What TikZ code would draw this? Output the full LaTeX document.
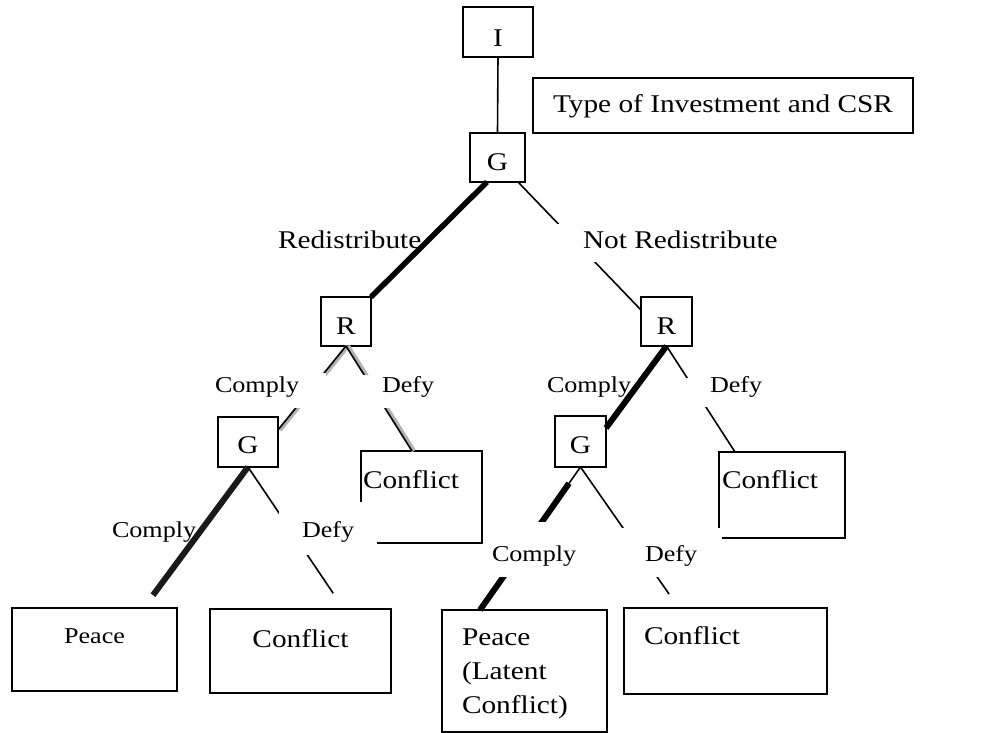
\documentclass[tikz,border=0pt]{standalone}
\usepackage{fontspec}
\setmainfont{Liberation Serif}
\newfontfamily\treefont[FakeStretch=1.15]{Liberation Serif}
\newcommand{\boxtxt}{\treefont\fontsize{25.5}{34}\selectfont}
\newcommand{\lbltxt}{\treefont\fontsize{22.7}{28}\selectfont}

\begin{document}
\begin{tikzpicture}[x=1pt,y=-1pt,
    box/.style={draw,line width=1.6pt,anchor=north west,outer sep=0pt,inner ysep=0pt,font=\boxtxt},
    lbl/.style={fill=white,anchor=north west,outer sep=0pt,inner ysep=0pt,font=\lbltxt},
    branch/.style={line width=1.6pt},
    eqpath/.style={line width=6pt},
    shade/.style={gray!60,line width=4.5pt,transform canvas={xshift=1.8pt}}]
    \useasboundingbox (0,0) rectangle (989,733);
    % boxes
    \node[box,minimum width=70pt,text height=40pt,text depth=10pt] (i) at (463,7) {I};
    \node[box,inner xsep=20pt,text height=35pt,text depth=20pt] (csr) at (533,78) {Type of Investment and CSR};
    \node[box,minimum width=55pt,text height=38pt,text depth=11pt] (g1) at (470,133) {G};
    \node[box,minimum width=50pt,text height=37pt,text depth=12pt] (r1) at (321,297) {R};
    \node[box,minimum width=51pt,text height=37pt,text depth=12pt] (r2) at (641,297) {R};
    \node[box,minimum width=60pt,text height=36pt,text depth=14pt] (g2) at (218,417) {G};
    \node[box,minimum width=51pt,text height=37pt,text depth=14pt] (g3) at (555,416) {G};
    \node[box,inner xsep=2pt,text width=117pt,align=left,text height=37pt,text depth=55pt] (c1) at (361,451) {Conflict};
    \node[box,inner xsep=3pt,text width=120pt,align=left,text height=36pt,text depth=50pt] (c3) at (719,452) {Conflict};
    \node[box,font=\lbltxt,minimum width=165pt,text height=35pt,text depth=48pt] (p1) at (12,608) {Peace};
    \node[box,minimum width=181pt,text height=38pt,text depth=46pt] (c2) at (210,609) {Conflict};
    \node[box,inner xsep=20pt,text width=125pt,align=left,text height=35pt,text depth=87pt] (pl) at (442,610) {Peace\\(Latent\\Conflict)};
    \node[box,inner xsep=20pt,text width=163pt,align=left,text height=36pt,text depth=50pt] (c4) at (624,608) {Conflict};
    % thin branches
    \draw[branch] (i.south) -- (g1.north);
    \draw[branch] ([xshift=20.5pt]g1.south) -- ([yshift=11.5pt]r2.west);
    \draw[shade] (r1.south) -- ([yshift=12pt]g2.east);
    \draw[branch] (r1.south) -- ([yshift=12pt]g2.east);
    \draw[shade] (r1.south) -- ([xshift=-9.5pt]c1.north);
    \draw[branch] (r1.south) -- ([xshift=-9.5pt]c1.north);
    \draw[branch,shorten >=19pt] (g2.south) -- ([xshift=43.3pt]c2.north);
    \draw[branch] (r2.south) -- ([xshift=-47pt]c3.north);
    \draw[branch] (g3.south) -- ([xshift=-44.5pt]pl.north);
    \draw[eqpath,shorten <=20pt] (g3.south) -- ([xshift=-44.5pt]pl.north);
    \draw[branch,shorten >=17pt] (g3.south) -- ([xshift=-46.7pt]c4.north);
    % labels
    \node[lbl,font=\boxtxt,inner xsep=2pt,text height=20pt,text depth=8pt] (redis) at (276,228) {Redistribute};
    \node[lbl,font=\boxtxt,inner xsep=27pt,text height=24pt,text depth=14pt] (notredis) at (556,224) {Not Redistribute};
    \node[lbl,inner xsep=27pt,text height=19pt,text depth=16pt] (rcomply1) at (188,373) {Comply};
    \node[lbl,inner xsep=20pt,text height=17pt,text depth=16pt] (rdefy1) at (362,375) {Defy};
    \node[lbl,inner xsep=3pt,text height=19pt,text depth=10pt] (rcomply2) at (544,373) {Comply};
    \node[lbl,inner xsep=25pt,text height=14pt,text depth=15pt] (rdefy2) at (685,378) {Defy};
    \node[lbl,inner xsep=3pt,text height=18pt,text depth=8pt] (gcomply1) at (109,519) {Comply};
    \node[lbl,inner xsep=23pt,text height=35pt,text depth=18pt] (gdefy1) at (279,502) {Defy};
    \node[lbl,inner xsep=5pt,text height=39pt,text depth=16pt] (gcomply2) at (487,522) {Comply};
    \node[lbl,inner xsep=25pt,text height=33pt,text depth=16pt] (gdefy2) at (620,528) {Defy};
    % equilibrium path
    \draw[eqpath,line width=5.5pt] ([xshift=-10.5pt]g1.south) -- (r1.north east);
    \draw[eqpath] (r2.south) -- ([yshift=13.5pt]g3.east);
    \draw[eqpath,gray!20!black,shorten >=16pt] (g2.south) -- ([xshift=49pt]p1.north);
\end{tikzpicture}
\end{document}
